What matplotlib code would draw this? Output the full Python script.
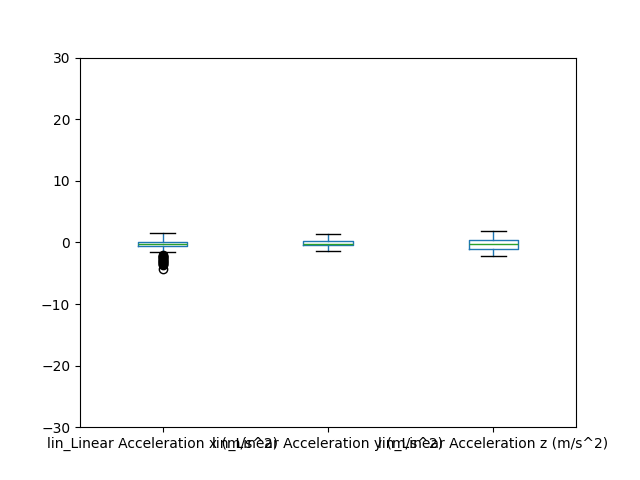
import matplotlib
matplotlib.use("Agg")
import matplotlib.pyplot as plt

labels = ["lin_Linear Acceleration x (m/s^2)",
          "lin_Linear Acceleration y (m/s^2)",
          "lin_Linear Acceleration z (m/s^2)"]
whislo = [-1.58, -1.43, -2.2]
q1 = [-0.57, -0.46, -1.1]
med = [-0.3, -0.19, -0.3]
q3 = [0.13, 0.24, 0.46]
whishi = [1.5, 1.33, 1.87]
fliers_x = [-2.05, -2.15, -2.25, -2.35, -2.45, -2.55, -2.65, -2.75, -2.85,
            -2.95, -3.05, -3.15, -3.25, -3.35, -3.45, -3.55, -3.62, -4.3]
fliers = [fliers_x, [], []]

stats = []
for i in range(3):
    stats.append(dict(label=labels[i], whislo=whislo[i], q1=q1[i], med=med[i],
                      q3=q3[i], whishi=whishi[i], fliers=fliers[i]))

fig, ax = plt.subplots(figsize=(6.4, 4.8), dpi=100)
ax.bxp(stats,
       boxprops=dict(color="#1f77b4"),
       whiskerprops=dict(color="#1f77b4"),
       medianprops=dict(color="#2ca02c"),
       capprops=dict(color="k"),
       flierprops=dict(marker="o", markerfacecolor="none", markeredgecolor="k"))
ax.set_ylim(-30, 30)
fig.savefig("out.png")
